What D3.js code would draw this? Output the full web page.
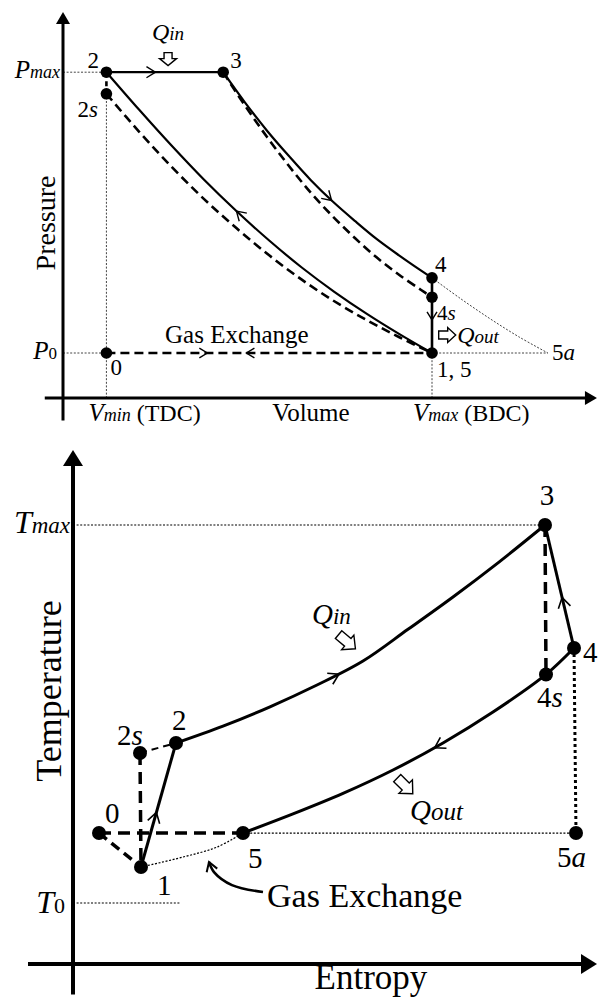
<!DOCTYPE html>
<html>
<head>
<meta charset="utf-8">
<script src="https://cdn.jsdelivr.net/npm/d3@7"></script>
<style>
  body { margin: 0; background: #fff; }
  text { font-family: "Liberation Serif", serif; fill: #000; }
</style>
</head>
<body>
<div id="viz"></div>
<script>
var width = 598, height = 1001;

// ---------- P-V diagram (V in units of Vmin, P in units of P0) ----------
var pvStates = [
  {name: "0",  V: 1,     P: 1},
  {name: "1",  V: 8.5,   P: 1},
  {name: "2",  V: 1,     P: 7.24},
  {name: "2s", V: 1,     P: 6.76},
  {name: "3",  V: 3.69,  P: 7.24},
  {name: "4",  V: 8.5,   P: 2.67},
  {name: "4s", V: 8.5,   P: 2.24},
  {name: "5a", V: 11.17, P: 1}
];
var pvCompV     = [1, 1.75, 2.5, 3.25, 4, 4.75, 5.5, 6.25, 7, 7.75, 8.5];
var pvCompP     = [7.24, 6.41, 5.61, 4.85, 4.15, 3.50, 2.90, 2.36, 1.87, 1.42, 1.0];
var pvCompIsenP = [6.76, 5.92, 5.14, 4.42, 3.77, 3.17, 2.63, 2.15, 1.73, 1.35, 1.0];
var pvExpV      = [3.69, 4.19, 4.70, 5.21, 5.71, 6.22, 6.73, 7.23, 7.74, 8.25, 8.5];
var pvExpP      = [7.24, 6.57, 5.94, 5.37, 4.84, 4.36, 3.93, 3.53, 3.17, 2.83, 2.67];
var pvExpIsenP  = [7.24, 6.50, 5.80, 5.15, 4.56, 4.03, 3.55, 3.12, 2.74, 2.40, 2.24];
var pvBlowV     = [8.5, 9.17, 9.84, 10.5, 11.17];
var pvBlowP     = [2.67, 2.2, 1.76, 1.36, 1.0];

// ---------- T-s diagram (s in kJ/kg K, T in K) ----------
var tsStates = [
  {name: "0",  s: 0.13,  T: 644},
  {name: "1",  s: 0.34,  T: 477},
  {name: "2s", s: 0.335, T: 1038},
  {name: "2",  s: 0.515, T: 1087},
  {name: "3",  s: 2.36,  T: 2159},
  {name: "4s", s: 2.365, T: 1424},
  {name: "4",  s: 2.505, T: 1554},
  {name: "5",  s: 0.85,  T: 644},
  {name: "5a", s: 2.515, T: 644}
];
var tsHeatInS    = [0.515, 0.75, 0.985, 1.22, 1.45, 1.675, 1.90, 2.125, 2.36];
var tsHeatInT    = [1087, 1170, 1265, 1372, 1490, 1646, 1805, 1973, 2159];
var tsHeatOutS   = [2.505, 2.365, 2.10, 1.85, 1.60, 1.35, 1.10, 0.85];
var tsHeatOutT   = [1554, 1424, 1239, 1087, 954, 839, 738, 644];
var tsExchangeS  = [0.34, 0.55, 0.72, 0.85];
var tsExchangeT  = [477, 526, 575, 644];
var tsPointerS   = [0.95, 0.795, 0.705, 0.68];
var tsPointerT   = [354, 388, 452, 502];
var T0 = 300, Tmax = 2159;

// label offsets (px) from the state dot
var pvLabelOff = {"0": [4, 22], "1": [5, 24], "2": [-19, -4], "2s": [-29, 23], "3": [7, -4],
                  "4": [3, -6], "4s": [5, 23], "5a": [4, 7]};
var tsLabelOff = {"0": [6, -10], "1": [16, 28], "2s": [-23, -8], "2": [-4, -13], "3": [2, -20],
                  "4s": [-9, 33], "4": [9, 14], "5": [5, 35], "5a": [-19, 34]};

function zip(a, b) { return a.map((v, i) => [v, b[i]]); }
function st(list, n) { return list.find(d => d.name === n); }

var svg = d3.select('#viz').append('svg')
  .attr('width', width)
  .attr('height', height);

// ---------- helpers ----------
function chevron(g, node, frac, back, size, sw) {
  var L = node.getTotalLength(), l = L * frac;
  var p = node.getPointAtLength(l),
      q = node.getPointAtLength(Math.min(L, l + 1)),
      o = node.getPointAtLength(Math.max(0, l - 1));
  var a = Math.atan2(q.y - o.y, q.x - o.x) * 180 / Math.PI + (back ? 180 : 0);
  g.append('path')
    .attr('d', `M${-size},${-size * 0.62}L0,0L${-size},${size * 0.62}`)
    .attr('transform', `translate(${p.x},${p.y}) rotate(${a})`)
    .attr('fill', 'none').attr('stroke', '#000').attr('stroke-width', sw);
}

function axisHead(g, x, y, ang, len, wid) {
  g.append('path')
    .attr('d', `M0,0L${-len},${-wid / 2}L${-len},${wid / 2}Z`)
    .attr('transform', `translate(${x},${y}) rotate(${ang})`)
    .attr('fill', '#000');
}

function blockArrow(g, x, y, ang, len, head, hw, sw) {
  var h0 = len / 2 - head;
  g.append('path')
    .attr('d', `M${-len / 2},${-sw / 2}L${h0},${-sw / 2}L${h0},${-hw / 2}L${len / 2},0L${h0},${hw / 2}L${h0},${sw / 2}L${-len / 2},${sw / 2}Z`)
    .attr('transform', `translate(${x},${y}) rotate(${ang})`)
    .attr('fill', '#fff').attr('stroke', '#000').attr('stroke-width', 1.4)
    .attr('stroke-linejoin', 'miter');
}

function label(g, x, y, parts, anchor) {
  var t = g.append('text').attr('x', x).attr('y', y).attr('text-anchor', anchor || 'start');
  parts.forEach(p => {
    t.append('tspan').text(p.t).attr('font-size', p.size)
      .attr('font-style', p.it ? 'italic' : 'normal');
  });
  return t;
}

function line(g, pts, w, dash) {
  return g.append('path')
    .attr('d', d3.line().curve(d3.curveCatmullRom.alpha(0.5))(pts))
    .attr('fill', 'none').attr('stroke', '#000')
    .attr('stroke-width', w)
    .attr('stroke-dasharray', dash || null);
}

// ================= P-V =================
var x = d3.scaleLinear().domain([0, 8.5]).range([63, 432]);
var y = d3.scaleLinear().domain([0, 8]).range([398, 38]);
var pv = svg.append('g');
var P = n => st(pvStates, n);
var px = n => [x(P(n).V), y(P(n).P)];

// thin dotted guides
var thin = 1, thinDash = '2,1.6', thinCol = '#444';
[[[x(0), y(P('2').P)], px('2')],
 [[x(0), y(1)], px('0')],
 [px('2s'), [x(1), y(0)]],
 [px('1'), [x(8.5), y(0)]],
 [px('1'), px('5a')]].forEach(seg => {
  line(pv, seg, thin, thinDash).attr('stroke', thinCol);
});
line(pv, zip(pvBlowV, pvBlowP).map(d => [x(d[0]), y(d[1])]), thin, thinDash).attr('stroke', thinCol);

// axes
pv.append('line').attr('x1', x(0)).attr('x2', x(0)).attr('y1', y(-0.5)).attr('y2', y(8.58) + 6)
  .attr('stroke', '#000').attr('stroke-width', 3);
axisHead(pv, x(0), y(8.58), -90, 12, 14);
pv.append('line').attr('x1', x(-0.42)).attr('x2', x(12.3) - 6).attr('y1', y(0)).attr('y2', y(0))
  .attr('stroke', '#000').attr('stroke-width', 3);
axisHead(pv, x(12.3), y(0), 0, 12, 14);

// processes
var pvDash = '9,5';
var gx = line(pv, [px('0'), px('1')], 2.6, pvDash);
chevron(pv, gx.node(), 0.31, false, 8, 1.4);
chevron(pv, gx.node(), 0.43, true, 8, 1.4);
line(pv, [px('2'), px('2s')], 2.6, '5,4');
line(pv, zip(pvCompV, pvCompIsenP).map(d => [x(d[0]), y(d[1])]), 2.6, pvDash);
line(pv, zip(pvExpV, pvExpIsenP).map(d => [x(d[0]), y(d[1])]), 2.6, pvDash);
var comp = line(pv, zip(pvCompV, pvCompP).map(d => [x(d[0]), y(d[1])]), 2.2);
chevron(pv, comp.node(), 0.44, true, 9, 1.4);
var exp = line(pv, zip(pvExpV, pvExpP).map(d => [x(d[0]), y(d[1])]), 2.2);
chevron(pv, exp.node(), 0.57, false, 9, 1.4);
var comb = line(pv, [px('2'), px('3')], 2.2);
chevron(pv, comb.node(), 0.42, false, 9, 1.4);
var blow = line(pv, [px('4'), px('1')], 2.6);
chevron(pv, blow.node(), 0.56, false, 8, 1.4);

// dots
pv.selectAll('circle').data(pvStates.filter(d => d.name !== '5a')).join('circle')
  .attr('cx', d => x(d.V)).attr('cy', d => y(d.P)).attr('r', 5.8).attr('fill', '#000');

// state labels
pvStates.forEach(d => {
  var o = pvLabelOff[d.name];
  var fs = d.name === '4s' ? 21 : 23;
  var txt = d.name === '1' ? [{t: '1, 5', size: fs}] :
    d.name.length > 1 ? [{t: d.name[0], size: fs}, {t: d.name[1], size: fs, it: true}] :
    [{t: d.name, size: fs}];
  label(pv, x(d.V) + o[0], y(d.P) + o[1], txt);
});

// heat arrows and text
blockArrow(pv, x(2.42), y(7.53), 90, 13, 7, 17, 8);
label(pv, x(2.05), y(7.96), [{t: 'Q', size: 24, it: true}, {t: 'in', size: 19, it: true}]);
blockArrow(pv, x(8.85), y(1.4), 0, 17, 8, 15, 8);
label(pv, x(9.08), y(1.22), [{t: 'Q', size: 24, it: true}, {t: 'out', size: 19, it: true}]);
label(pv, x(2.35), y(1.22), [{t: 'Gas Exchange', size: 25}]);

// axis labels
label(pv, x(0) - 3, y(P('2').P) + 6, [{t: 'P', size: 25, it: true}, {t: 'max', size: 18, it: true}], 'end');
label(pv, x(0) - 6, y(1) + 6, [{t: 'P', size: 25, it: true}, {t: '0', size: 17}], 'end');
label(pv, x(1) - 18, y(0) + 23, [{t: 'V', size: 25, it: true}, {t: 'min', size: 18, it: true}, {t: ' (TDC)', size: 24}]);
label(pv, x(8.5) - 19, y(0) + 23, [{t: 'V', size: 25, it: true}, {t: 'max', size: 18, it: true}, {t: ' (BDC)', size: 24}]);
label(pv, 311, y(0) + 23, [{t: 'Volume', size: 25}], 'middle');
pv.append('text').attr('transform', `translate(55,223) rotate(-90)`)
  .attr('text-anchor', 'middle').attr('font-size', 28).text('Pressure');

// ================= T-s =================
var sx = d3.scaleLinear().domain([0, 2.5]).range([73, 573]);
var ty = d3.scaleLinear().domain([0, 2400]).range([964, 476]);
var ts = svg.append('g');
var S = n => st(tsStates, n);
var sp = n => [sx(S(n).s), ty(S(n).T)];

// thin dotted guides
line(ts, [[sx(0), ty(Tmax)], sp('3')], 1.2, '2,1.6');
line(ts, [[sx(0), ty(T0)], [sx(0.54), ty(T0)]], 1.2, '2,1.6');
line(ts, [sp('5'), sp('5a')], 1.2, '2,1.6');
line(ts, zip(tsExchangeS, tsExchangeT).map(d => [sx(d[0]), ty(d[1])]), 1.2, '2,1.6');
line(ts, [sp('4'), sp('5a')], 3, '3,3');

// axes
ts.append('line').attr('x1', sx(0)).attr('x2', sx(0)).attr('y1', ty(-150)).attr('y2', ty(2528) + 8)
  .attr('stroke', '#000').attr('stroke-width', 4);
axisHead(ts, sx(0), ty(2528), -90, 16, 20);
ts.append('line').attr('x1', sx(-0.225)).attr('x2', sx(2.62) - 8).attr('y1', ty(0)).attr('y2', ty(0))
  .attr('stroke', '#000').attr('stroke-width', 4);
axisHead(ts, sx(2.62), ty(0), 0, 16, 20);

// processes
var tsDash = '12,7';
line(ts, [sp('0'), sp('5')], 3.5, tsDash);
line(ts, [sp('0'), sp('1')], 3.5, '10,6');
line(ts, [sp('2s'), sp('1')], 3.5, tsDash);
line(ts, [sp('2s'), sp('2')], 2, '7,5');
line(ts, [sp('3'), sp('4s')], 3.5, tsDash);
var c12 = line(ts, [sp('1'), sp('2')], 3);
chevron(ts, c12.node(), 0.44, false, 10, 1.6);
var c23 = line(ts, zip(tsHeatInS, tsHeatInT).map(d => [sx(d[0]), ty(d[1])]), 3);
chevron(ts, c23.node(), 0.41, false, 10, 1.6);
var c43 = line(ts, [sp('4'), sp('3')], 3);
chevron(ts, c43.node(), 0.41, false, 10, 1.6);
var c45 = line(ts, zip(tsHeatOutS, tsHeatOutT).map(d => [sx(d[0]), ty(d[1])]), 3);
chevron(ts, c45.node(), 0.45, false, 10, 1.6);

// dots
ts.selectAll('circle').data(tsStates).join('circle')
  .attr('cx', d => sx(d.s)).attr('cy', d => ty(d.T)).attr('r', 7).attr('fill', '#000');

// state labels
tsStates.forEach(d => {
  var o = tsLabelOff[d.name];
  var txt = d.name.length > 1 ? [{t: d.name[0], size: 29}, {t: d.name[1], size: 29, it: true}] : [{t: d.name, size: 29}];
  label(ts, sx(d.s) + o[0], ty(d.T) + o[1], txt, d.name === '3' ? 'middle' : 'start');
});

// heat arrows and text
blockArrow(ts, sx(1.37), ty(1585), 40, 22, 10, 19, 10);
label(ts, sx(1.195), ty(1672), [{t: 'Q', size: 29, it: true}, {t: 'in', size: 23, it: true}]);
blockArrow(ts, sx(1.66), ty(876), 45, 22, 10, 19, 10);
label(ts, sx(1.685), ty(709), [{t: 'Q', size: 29, it: true}, {t: 'out', size: 25, it: true}]);

// gas exchange pointer
var ptr = line(ts, zip(tsPointerS, tsPointerT).map(d => [sx(d[0]), ty(d[1])]), 2.6);
chevron(ts, ptr.node(), 1, false, 9, 2);
label(ts, sx(0.97), ty(280), [{t: 'Gas Exchange', size: 34}]);

// axis labels
label(ts, sx(0) - 3, ty(Tmax) + 8, [{t: 'T', size: 32, it: true}, {t: 'max', size: 23, it: true}], 'end');
label(ts, sx(0) - 8, ty(T0) + 10, [{t: 'T', size: 32, it: true}, {t: '0', size: 22}], 'end');
label(ts, 371, 989, [{t: 'Entropy', size: 35}], 'middle');
ts.append('text').attr('transform', `translate(61,691) rotate(-90)`)
  .attr('text-anchor', 'middle').attr('font-size', 36).text('Temperature');
</script>
</body>
</html>
